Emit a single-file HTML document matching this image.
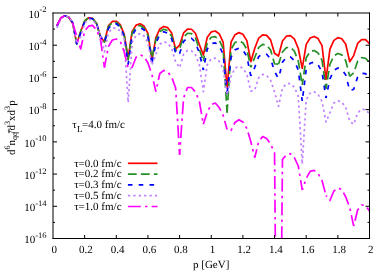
<!DOCTYPE html><html><head><meta charset="utf-8"><title>chart</title><style>
html,body{margin:0;padding:0;background:#fff}#c{position:relative;width:389px;height:273px;overflow:hidden;background:#fff}
</style></head><body><div id="c">
<svg width="389" height="273" viewBox="0 0 389 273" style="position:absolute;left:0;top:0">
<defs><filter id="gs" x="0" y="0" width="389" height="273" filterUnits="userSpaceOnUse" color-interpolation-filters="sRGB"><feColorMatrix type="saturate" values="0"/></filter><clipPath id="cp"><rect x="53.0" y="13.0" width="316.5" height="225.5"/></clipPath></defs>
<g clip-path="url(#cp)" fill="none" stroke-width="1.70" stroke-linejoin="round">
<path d="M56.96 25.40 L60.91 17.82 L64.87 15.73 L68.83 17.31 L72.78 23.45 L76.74 43.80 L80.69 31.49 L84.65 21.02 L88.61 17.73 L92.56 18.45 L96.52 23.29 L100.47 36.79 L104.43 42.00 L108.39 25.91 L112.34 21.47 L116.30 21.23 L120.26 24.67 L124.21 34.37 L128.17 58.00 L132.12 31.37 L136.08 25.10 L140.04 23.75 L143.99 26.04 L147.95 33.32 L151.91 60.00 L155.86 37.60 L159.82 28.95 L163.78 26.46 L167.73 27.64 L171.69 33.09 L175.64 49.20 L179.60 45.22 L183.56 32.92 L187.51 29.08 L191.47 29.23 L195.43 33.24 L199.38 44.58 L203.34 55.00 L207.29 37.31 L211.25 31.91 L215.21 31.01 L219.16 33.73 L223.12 42.02 L227.08 88.00 L231.03 42.11 L234.99 34.66 L238.94 32.62 L242.90 34.31 L246.86 40.61 L250.81 61.70 L254.77 48.25 L258.73 38.05 L262.68 34.88 L266.64 35.40 L270.59 39.89 L274.55 53.27 L278.51 56.06 L282.46 40.96 L286.42 36.18 L290.38 35.63 L294.33 38.86 L298.29 48.46 L302.24 68.40 L306.20 44.43 L310.16 37.98 L314.11 36.42 L318.07 38.54 L322.03 45.71 L325.98 79.50 L329.94 49.05 L333.89 40.34 L337.85 37.68 L341.81 38.80 L345.76 44.23 L349.72 61.70 L353.68 55.59 L357.63 43.46 L361.59 39.60 L365.54 39.71 L369.50 43.71" stroke="#ff0000"/>
<path d="M56.96 25.40 L60.91 17.82 L64.87 15.73 L68.83 17.31 L72.78 23.45 L76.74 43.80 L80.69 31.49 L84.65 21.02 L88.61 17.73 L92.56 18.57 L96.52 23.58 L100.47 37.26 L104.43 42.00 L108.39 26.73 L112.34 22.46 L116.30 22.36 L120.26 25.90 L124.21 35.70 L128.17 59.80 L132.12 32.89 L136.08 26.71 L140.04 25.47 L143.99 27.93 L147.95 35.38 L151.91 58.30" stroke="#279027" stroke-dasharray="8.8 4.2" stroke-dashoffset="0.00"/>
<path d="M151.91 58.30 L155.86 40.01 L159.82 31.54 L163.78 29.22 L167.73 30.64 L171.69 36.32 L175.64 50.80" stroke="#279027" stroke-dasharray="8.8 4.2" stroke-dashoffset="11.12"/>
<path d="M175.64 50.80 L179.60 48.93 L183.56 36.87 L187.51 33.27 L191.47 33.63 L195.43 37.84 L199.38 49.36 L203.34 60.90" stroke="#279027" stroke-dasharray="8.8 4.2" stroke-dashoffset="7.33"/>
<path d="M203.34 60.90 L207.29 42.47 L211.25 37.27 L215.21 36.62 L219.16 39.79 L223.12 48.52 L227.08 112.60" stroke="#279027" stroke-dasharray="8.8 4.2" stroke-dashoffset="3.44"/>
<path d="M227.08 112.60 L231.03 49.50 L234.99 42.49 L238.94 40.90 L242.90 42.81 L246.86 49.31 L250.81 67.30" stroke="#279027" stroke-dasharray="8.8 4.2" stroke-dashoffset="0.48"/>
<path d="M250.81 67.30 L254.77 57.37 L258.73 47.38 L262.68 44.42 L266.64 45.21 L270.59 50.03 L274.55 63.72 L278.51 64.20" stroke="#279027" stroke-dasharray="8.8 4.2" stroke-dashoffset="6.41"/>
<path d="M278.51 64.20 L282.46 52.05 L286.42 47.59 L290.38 47.39 L294.33 51.02 L298.29 61.01 L302.24 85.00" stroke="#279027" stroke-dasharray="8.8 4.2" stroke-dashoffset="1.30"/>
<path d="M302.24 85.00 L306.20 57.77 L310.16 51.73 L314.11 50.55 L318.07 52.94 L322.03 60.38 L325.98 88.60" stroke="#279027" stroke-dasharray="8.8 4.2" stroke-dashoffset="2.28"/>
<path d="M325.98 88.60 L329.94 64.26 L333.89 55.82 L337.85 53.43 L341.81 54.92 L345.76 60.75 L349.72 76.40" stroke="#279027" stroke-dasharray="8.8 4.2" stroke-dashoffset="3.83"/>
<path d="M349.72 76.40 L353.68 72.90 L357.63 61.18 L361.59 57.71 L365.54 58.22 L369.50 62.62" stroke="#279027" stroke-dasharray="8.8 4.2" stroke-dashoffset="3.63"/>
<path d="M56.96 26.36 L60.91 18.14 L64.87 15.77 L68.83 17.11 L72.78 22.83 L76.74 43.80 L80.69 33.12 L84.65 21.65 L88.61 18.04 L92.56 18.76 L96.52 23.59 L100.47 36.27 L104.43 42.50 L108.39 28.45 L112.34 23.95 L116.30 23.74 L120.26 27.07 L124.21 36.25 L128.17 64.20 L132.12 35.64 L136.08 29.01 L140.04 27.58 L143.99 29.82 L147.95 36.82 L151.91 63.30" stroke="#0000ff" stroke-dasharray="4.6 6.2" stroke-dashoffset="0.00"/>
<path d="M151.91 63.30 L155.86 43.58 L159.82 34.38 L163.78 31.80 L167.73 33.22 L171.69 38.83 L175.64 53.00" stroke="#0000ff" stroke-dasharray="4.6 6.2" stroke-dashoffset="9.42"/>
<path d="M175.64 53.00 L179.60 53.50 L183.56 41.53 L187.51 37.88 L191.47 38.26 L195.43 42.38 L199.38 53.23 L203.34 70.00" stroke="#0000ff" stroke-dasharray="4.6 6.2" stroke-dashoffset="6.87"/>
<path d="M203.34 70.00 L207.29 48.95 L211.25 43.53 L215.21 42.83 L219.16 45.86 L223.12 54.13 L227.08 94.00" stroke="#0000ff" stroke-dasharray="4.6 6.2" stroke-dashoffset="3.17"/>
<path d="M227.08 94.00 L231.03 57.37 L234.99 49.88 L238.94 48.14 L242.90 50.08 L246.86 56.44 L250.81 76.00" stroke="#0000ff" stroke-dasharray="4.6 6.2" stroke-dashoffset="9.07"/>
<path d="M250.81 76.00 L254.77 67.30 L258.73 56.62 L262.68 53.63 L266.64 54.30 L270.59 58.78 L274.55 71.29 L278.51 79.00" stroke="#0000ff" stroke-dasharray="4.6 6.2" stroke-dashoffset="3.21"/>
<path d="M278.51 79.00 L282.46 62.09 L286.42 57.26 L290.38 56.94 L294.33 60.57 L298.29 70.13 L302.24 101.00" stroke="#0000ff" stroke-dasharray="4.6 6.2" stroke-dashoffset="5.08"/>
<path d="M302.24 101.00 L306.20 69.51 L310.16 63.24 L314.11 62.10 L318.07 64.70 L322.03 72.10 L325.98 98.00" stroke="#0000ff" stroke-dasharray="4.6 6.2" stroke-dashoffset="5.53"/>
<path d="M325.98 98.00 L329.94 78.96 L333.89 70.24 L337.85 68.02 L341.81 69.44 L345.76 75.01 L349.72 90.51 L353.68 89.40" stroke="#0000ff" stroke-dasharray="4.6 6.2" stroke-dashoffset="2.29"/>
<path d="M353.68 89.40 L357.63 77.00 L361.59 73.30 L365.54 73.68 L369.50 77.88" stroke="#0000ff" stroke-dasharray="4.6 6.2" stroke-dashoffset="2.33"/>
<path d="M56.96 27.93 L60.91 18.62 L64.87 15.89 L68.83 16.94 L72.78 22.14 L76.74 43.80 L80.69 36.80 L84.65 23.40 L88.61 19.34 L92.56 19.99 L96.52 24.72 L100.47 36.24 L104.43 52.00 L108.39 32.96 L112.34 28.16 L116.30 27.88 L120.26 31.00 L124.21 39.39 L128.17 102.50 L132.12 42.59 L136.08 35.22 L140.04 33.60 L143.99 36.00 L147.95 42.83 L151.91 65.00 L155.86 54.36 L159.82 44.20 L163.78 41.67 L167.73 43.10 L171.69 48.49 L175.64 61.97 L179.60 67.60 L183.56 54.32 L187.51 50.41 L191.47 50.77 L195.43 54.79 L199.38 64.77 L203.34 91.70 L207.29 64.72 L211.25 58.86 L215.21 58.14 L219.16 61.14 L223.12 68.96 L227.08 95.00 L231.03 76.42 L234.99 68.15 L238.94 66.34 L242.90 68.24 L246.86 74.31 L250.81 91.20 L254.77 89.93 L258.73 77.64 L262.68 74.45 L266.64 75.42 L270.59 80.24 L274.55 91.98 L278.51 106.40 L282.46 88.25 L286.42 83.59 L290.38 83.55 L294.33 87.17 L298.29 96.13 L302.24 164.20 L306.20 99.74 L310.16 92.95 L314.11 91.80 L318.07 94.39 L322.03 101.45 L325.98 122.00 L329.94 112.72 L333.89 102.93 L337.85 100.61 L341.81 102.10 L345.76 107.54 L349.72 121.27 L353.68 124.30 L357.63 113.02 L361.59 109.17 L365.54 109.62 L369.50 113.79" stroke="#c080ff" stroke-dasharray="2.3 3.1"/>
<path d="M56.96 25.40 L60.91 17.82 L64.87 15.73 L68.83 17.31 L72.78 23.45 L76.74 36.00 L80.69 49.00 L84.65 31.00 L88.61 26.20 L92.56 25.40 L96.52 30.00 L100.47 39.50 L104.43 67.50" stroke="#ff00ff" stroke-dasharray="12.9 4.2 2.5 4.2" stroke-dashoffset="0.00"/>
<path d="M104.43 67.50 L108.39 46.50 L112.34 40.00 L116.30 39.00 L120.26 41.20 L124.21 52.00 L128.17 68.00" stroke="#ff00ff" stroke-dasharray="12.9 4.2 2.5 4.2" stroke-dashoffset="2.67"/>
<path d="M128.17 68.00 L132.12 67.50 L136.08 57.30 L140.04 54.80 L143.99 56.50 L147.95 63.00 L151.91 74.50 L155.86 91.50" stroke="#ff00ff" stroke-dasharray="12.9 4.2 2.5 4.2" stroke-dashoffset="20.77"/>
<path d="M155.86 91.50 L159.82 73.50 L163.78 70.40 L167.73 72.00 L171.69 77.00 L175.64 88.00 L179.60 154.70" stroke="#ff00ff" stroke-dasharray="12.9 4.2 2.5 4.2" stroke-dashoffset="12.05"/>
<path d="M179.60 154.70 L183.56 98.00 L187.51 87.50 L191.47 87.50 L195.43 91.80 L199.38 101.50 L203.34 124.30" stroke="#ff00ff" stroke-dasharray="12.9 4.2 2.5 4.2" stroke-dashoffset="7.04"/>
<path d="M203.34 124.30 L207.29 112.00 L211.25 104.60 L215.21 103.00 L219.16 107.50 L223.12 115.30 L227.08 129.50" stroke="#ff00ff" stroke-dasharray="12.9 4.2 2.5 4.2" stroke-dashoffset="1.50"/>
<path d="M227.08 129.50 L231.03 130.50 L234.99 122.50 L238.94 119.70 L242.90 122.00 L246.86 128.50 L250.81 141.50 L254.77 157.60" stroke="#ff00ff" stroke-dasharray="12.9 4.2 2.5 4.2" stroke-dashoffset="13.28"/>
<path d="M254.77 157.60 L258.73 141.50 L262.68 136.50 L266.64 138.50 L270.59 144.00 L274.55 153.00 L278.51 600.00" stroke="#ff00ff" stroke-dasharray="12.9 4.2 2.5 4.2" stroke-dashoffset="4.36"/>
<path d="M278.51 600.00 L282.46 159.50 L286.42 154.80 L290.38 153.70 L294.33 157.50 L298.29 166.00 L302.24 190.00" stroke="#ff00ff" stroke-dasharray="12.9 4.2 2.5 4.2" stroke-dashoffset="19.85"/>
<path d="M302.24 190.00 L306.20 178.50 L310.16 171.30 L314.11 170.40 L318.07 173.50 L322.03 180.50 L325.98 195.50" stroke="#ff00ff" stroke-dasharray="12.9 4.2 2.5 4.2" stroke-dashoffset="10.73"/>
<path d="M325.98 195.50 L329.94 200.50 L333.89 191.00 L337.85 188.00 L341.81 189.50 L345.76 197.00 L349.72 207.50 L353.68 226.00" stroke="#ff00ff" stroke-dasharray="12.9 4.2 2.5 4.2" stroke-dashoffset="18.10"/>
<path d="M353.68 226.00 L357.63 210.00 L361.59 205.00 L365.54 205.50 L369.50 211.00" stroke="#ff00ff" stroke-dasharray="12.9 4.2 2.5 4.2" stroke-dashoffset="18.33"/>
</g>
<g stroke="#000" stroke-width="1" fill="none">
<path d="M53.0 12.5 V239.0 M52.5 13.0 H370.0 M369.5 12.5 V239.0 M52.5 238.5 H370.0"/>
<path d="M84.65 238.5 v-3.5 M84.65 13.0 v3.5 M116.30 238.5 v-3.5 M116.30 13.0 v3.5 M147.95 238.5 v-3.5 M147.95 13.0 v3.5 M179.60 238.5 v-3.5 M179.60 13.0 v3.5 M211.25 238.5 v-3.5 M211.25 13.0 v3.5 M242.90 238.5 v-3.5 M242.90 13.0 v3.5 M274.55 238.5 v-3.5 M274.55 13.0 v3.5 M306.20 238.5 v-3.5 M306.20 13.0 v3.5 M337.85 238.5 v-3.5 M337.85 13.0 v3.5 M53.0 29.11 h2.0 M369.5 29.11 h-2.0 M53.0 45.21 h4.0 M369.5 45.21 h-4.0 M53.0 61.32 h2.0 M369.5 61.32 h-2.0 M53.0 77.43 h4.0 M369.5 77.43 h-4.0 M53.0 93.54 h2.0 M369.5 93.54 h-2.0 M53.0 109.64 h4.0 M369.5 109.64 h-4.0 M53.0 125.75 h2.0 M369.5 125.75 h-2.0 M53.0 141.86 h4.0 M369.5 141.86 h-4.0 M53.0 157.96 h2.0 M369.5 157.96 h-2.0 M53.0 174.07 h4.0 M369.5 174.07 h-4.0 M53.0 190.18 h2.0 M369.5 190.18 h-2.0 M53.0 206.29 h4.0 M369.5 206.29 h-4.0 M53.0 222.39 h2.0 M369.5 222.39 h-2.0"/>
</g>
<g fill="none" stroke-width="1.70">
<path d="M127.9 163.3 H157.5" stroke="#ff0000"/>
<path d="M127.9 174.1 H157.5" stroke="#279027" stroke-dasharray="8.8 4.2"/>
<path d="M127.9 184.9 H157.5" stroke="#0000ff" stroke-dasharray="4.6 6.2"/>
<path d="M127.9 195.7 H157.5" stroke="#c080ff" stroke-dasharray="2.3 3.1"/>
<path d="M127.9 206.5 H157.5" stroke="#ff00ff" stroke-dasharray="12.9 4.2 2.5 4.2"/>
</g>
<g font-family="Liberation Serif, serif" font-size="11" fill="#000" text-rendering="geometricPrecision" filter="url(#gs)">
<text x="46.6" y="17.80" text-anchor="end">10<tspan font-size="8.5" dy="-5.3">-2</tspan></text>
<text x="46.6" y="50.01" text-anchor="end">10<tspan font-size="8.5" dy="-5.3">-4</tspan></text>
<text x="46.6" y="82.23" text-anchor="end">10<tspan font-size="8.5" dy="-5.3">-6</tspan></text>
<text x="46.6" y="114.44" text-anchor="end">10<tspan font-size="8.5" dy="-5.3">-8</tspan></text>
<text x="46.6" y="146.66" text-anchor="end">10<tspan font-size="8.5" dy="-5.3">-10</tspan></text>
<text x="46.6" y="178.87" text-anchor="end">10<tspan font-size="8.5" dy="-5.3">-12</tspan></text>
<text x="46.6" y="211.09" text-anchor="end">10<tspan font-size="8.5" dy="-5.3">-14</tspan></text>
<text x="46.6" y="243.30" text-anchor="end">10<tspan font-size="8.5" dy="-5.3">-16</tspan></text>
<text x="54.30" y="252.80" text-anchor="middle" >0</text>
<text x="85.95" y="252.80" text-anchor="middle" >0.2</text>
<text x="117.60" y="252.80" text-anchor="middle" >0.4</text>
<text x="149.25" y="252.80" text-anchor="middle" >0.6</text>
<text x="180.90" y="252.80" text-anchor="middle" >0.8</text>
<text x="212.55" y="252.80" text-anchor="middle" >1</text>
<text x="244.20" y="252.80" text-anchor="middle" >1.2</text>
<text x="275.85" y="252.80" text-anchor="middle" >1.4</text>
<text x="307.50" y="252.80" text-anchor="middle" >1.6</text>
<text x="339.15" y="252.80" text-anchor="middle" >1.8</text>
<text x="370.80" y="252.80" text-anchor="middle" >2</text>
<text x="211.20" y="268.40" text-anchor="middle" >p [GeV]</text>
<text x="72.2" y="128.4">&#964;<tspan font-size="9" dy="3.2" dx="0.4">L</tspan><tspan dy="-3.2" dx="-0.4">=4.0 fm/c</tspan></text>
<text x="74.2" y="166.50" textLength="47.4" lengthAdjust="spacingAndGlyphs">&#964;=0.0 fm/c</text>
<text x="74.2" y="177.30" textLength="47.4" lengthAdjust="spacingAndGlyphs">&#964;=0.2 fm/c</text>
<text x="74.2" y="188.30" textLength="47.4" lengthAdjust="spacingAndGlyphs">&#964;=0.3 fm/c</text>
<text x="74.2" y="199.10" textLength="47.4" lengthAdjust="spacingAndGlyphs">&#964;=0.5 fm/c</text>
<text x="74.2" y="209.90" textLength="47.4" lengthAdjust="spacingAndGlyphs">&#964;=1.0 fm/c</text>
<g transform="translate(14.8 155.0) rotate(-90)"><text x="0" y="0">d<tspan font-size="8.2" dy="-5.3">6</tspan><tspan dy="5.3">n</tspan><tspan font-size="8" dy="2.2">qq</tspan><tspan dy="-2.2" dx="-1.7">/d</tspan><tspan font-size="8.2" dy="-5.3">3</tspan><tspan dy="5.3">xd</tspan><tspan font-size="8.2" dy="-5.3">3</tspan><tspan dy="5.3">p</tspan></text><path d="M21.8 -5.8 H26.4" stroke="#000" stroke-width="0.9"/></g>
</g>
</svg>
</div></body></html>
